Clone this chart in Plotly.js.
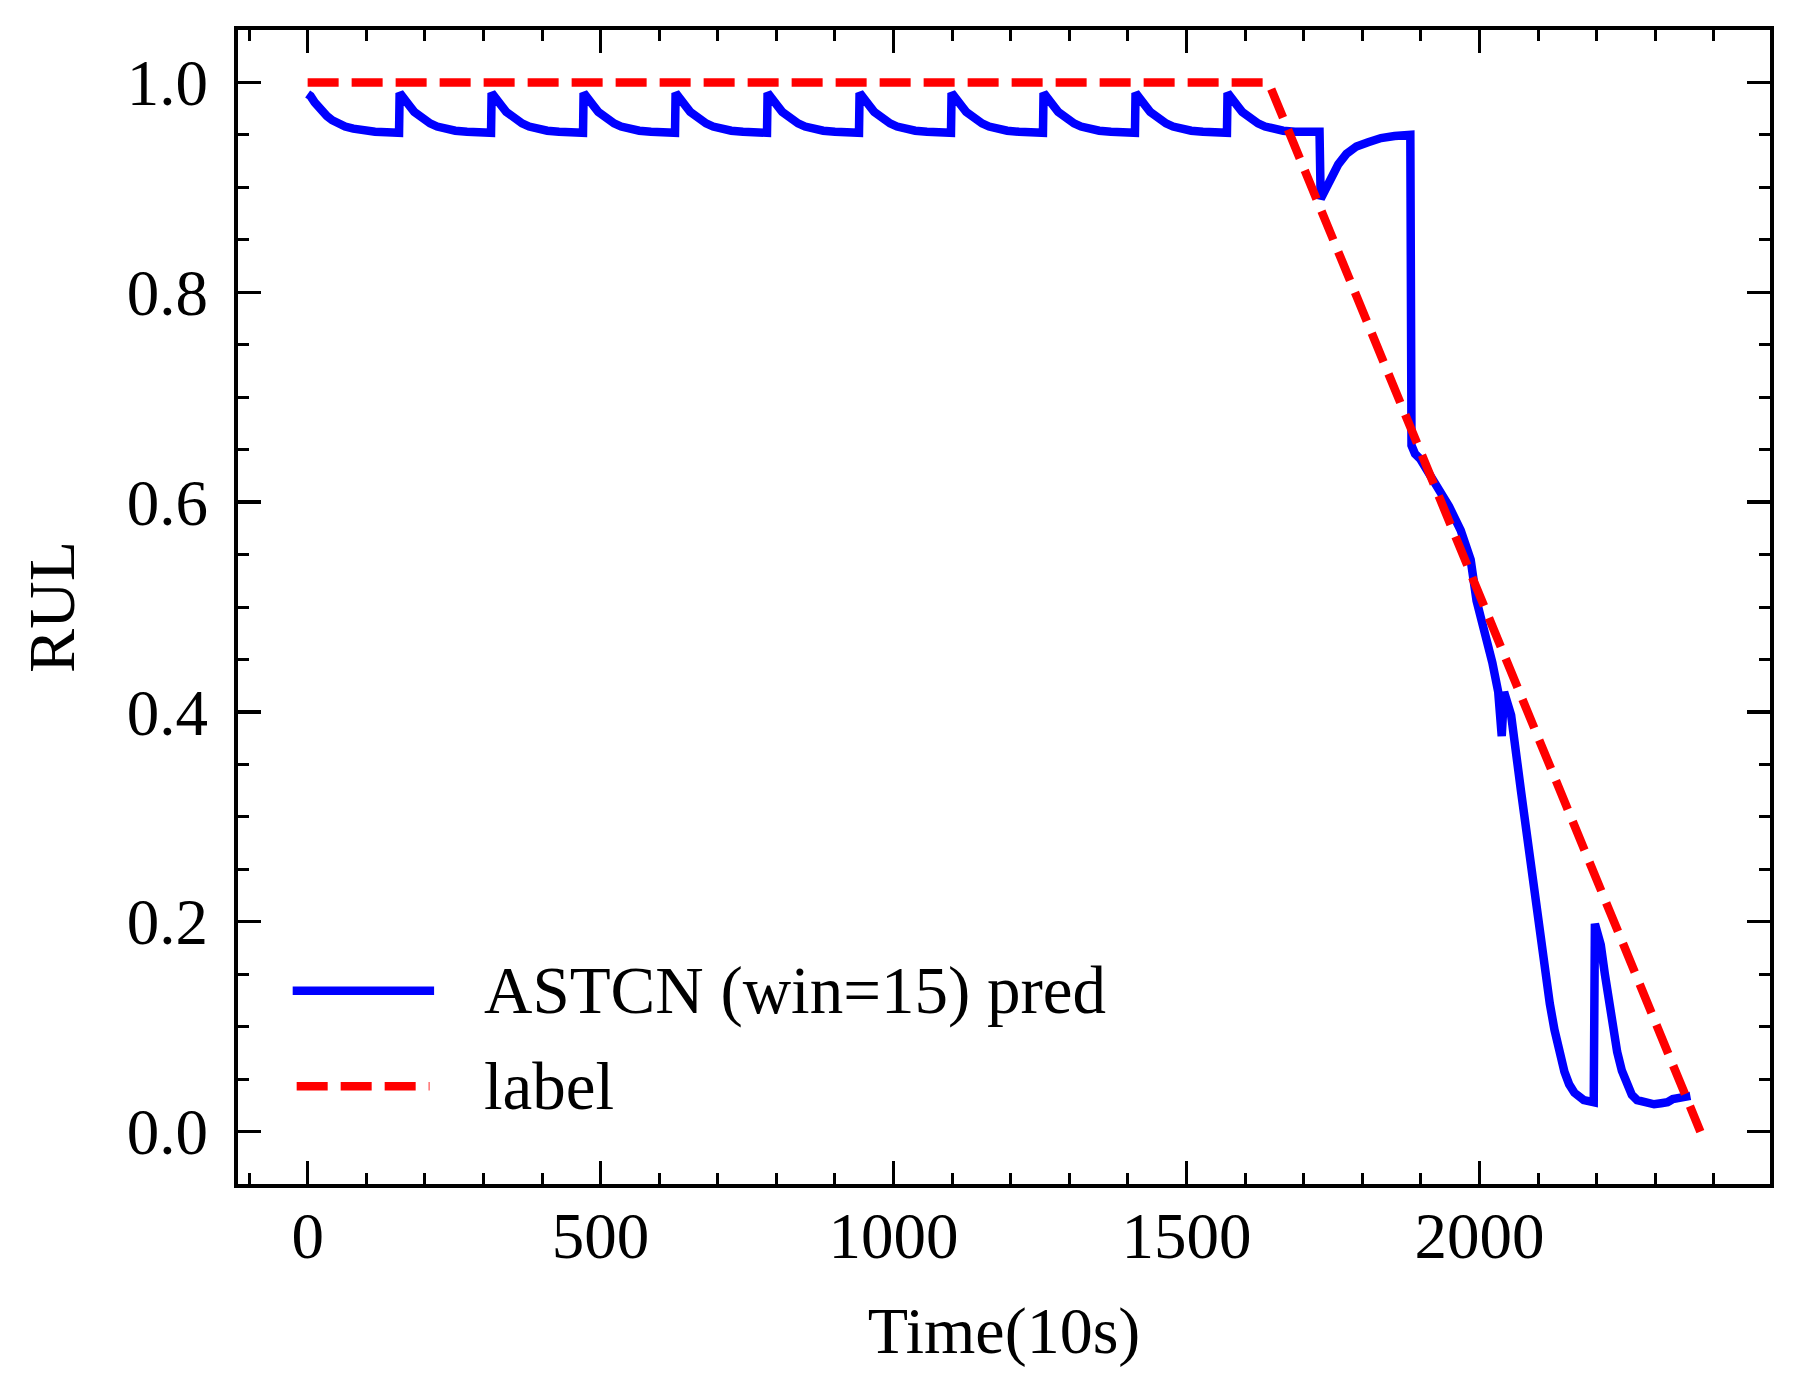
<!DOCTYPE html>
<html>
<head>
<meta charset="utf-8">
<script src="https://cdn.plot.ly/plotly-3.0.1.min.js"></script>
<style>
    html, body {
        margin: 0;
        padding: 0;
        background: #ffffff;
    }

    #chart {
        width: 1801px;
        height: 1399px;
    }
</style>
</head>
<body>
<div id="chart"></div>
<script>
/******************************************************************************
 * RUL prediction vs label.
 ******************************************************************************/

// label: flat at 1.0, then a straight ramp down to 0
const labelX = [0, 1640, 2377];
const labelY = [1.0, 1.0, 0.0];

// prediction of ASTCN (win=15), one row per saw-tooth period
const predX = [
    0, 5, 12, 18, 25, 33, 42, 52, 64, 78, 95, 115, 135, 156,
    157, 162, 169, 175, 182, 190, 199, 209, 221, 235, 252, 272, 292, 313,
    314, 319, 326, 332, 339, 347, 356, 366, 378, 392, 409, 429, 449, 470,
    471, 476, 483, 489, 496, 504, 513, 523, 535, 549, 566, 586, 606, 627,
    628, 633, 640, 646, 653, 661, 670, 680, 692, 706, 723, 743, 763, 784,
    785, 790, 797, 803, 810, 818, 827, 837, 849, 863, 880, 900, 920, 941,
    942, 947, 954, 960, 967, 975, 984, 994, 1006, 1020, 1037, 1057, 1077, 1098,
    1099, 1104, 1111, 1117, 1124, 1132, 1141, 1151, 1163, 1177, 1194, 1214, 1234, 1255,
    1256, 1261, 1268, 1274, 1281, 1289, 1298, 1308, 1320, 1334, 1351, 1371, 1391, 1412,
    1413, 1418, 1425, 1431, 1438, 1446, 1455, 1465, 1477, 1491, 1508, 1528, 1548, 1569,
    1570, 1575, 1582, 1588, 1595, 1603, 1612, 1622, 1634, 1648, 1665, 1685, 1705, 1727,
    1729, 1739, 1747, 1759, 1773, 1790, 1810, 1832, 1855, 1882,
    1884, 1890, 1899, 1912, 1925, 1948, 1968, 1985, 1995, 2012, 2022, 2032, 2038,
    2042, 2047, 2054, 2071, 2088, 2110, 2120, 2128, 2136, 2145, 2153, 2162, 2178, 2190, 2195,
    2197, 2202, 2207, 2214, 2221, 2228, 2235, 2243, 2252, 2260, 2269, 2285, 2298, 2310, 2321, 2330, 2338, 2348, 2360
];

const predY = [
    0.989, 0.987, 0.981, 0.977, 0.972, 0.968, 0.964, 0.961, 0.958, 0.956, 0.954, 0.953, 0.9525, 0.952,
    0.990, 0.987, 0.981, 0.977, 0.972, 0.968, 0.964, 0.961, 0.958, 0.956, 0.954, 0.953, 0.9525, 0.952,
    0.990, 0.987, 0.981, 0.977, 0.972, 0.968, 0.964, 0.961, 0.958, 0.956, 0.954, 0.953, 0.9525, 0.952,
    0.990, 0.987, 0.981, 0.977, 0.972, 0.968, 0.964, 0.961, 0.958, 0.956, 0.954, 0.953, 0.9525, 0.952,
    0.990, 0.987, 0.981, 0.977, 0.972, 0.968, 0.964, 0.961, 0.958, 0.956, 0.954, 0.953, 0.9525, 0.952,
    0.990, 0.987, 0.981, 0.977, 0.972, 0.968, 0.964, 0.961, 0.958, 0.956, 0.954, 0.953, 0.9525, 0.952,
    0.990, 0.987, 0.981, 0.977, 0.972, 0.968, 0.964, 0.961, 0.958, 0.956, 0.954, 0.953, 0.9525, 0.952,
    0.990, 0.987, 0.981, 0.977, 0.972, 0.968, 0.964, 0.961, 0.958, 0.956, 0.954, 0.953, 0.9525, 0.952,
    0.990, 0.987, 0.981, 0.977, 0.972, 0.968, 0.964, 0.961, 0.958, 0.956, 0.954, 0.953, 0.9525, 0.952,
    0.990, 0.987, 0.981, 0.977, 0.972, 0.968, 0.964, 0.961, 0.958, 0.956, 0.954, 0.953, 0.9525, 0.952,
    0.990, 0.987, 0.981, 0.977, 0.972, 0.968, 0.964, 0.961, 0.958, 0.956, 0.954, 0.953, 0.953, 0.953,
    0.889, 0.900, 0.912, 0.922, 0.932, 0.939, 0.943, 0.947, 0.949, 0.950,
    0.654, 0.646, 0.641, 0.630, 0.618, 0.596, 0.573, 0.545, 0.506, 0.470, 0.447, 0.419, 0.377,
    0.419, 0.412, 0.397, 0.324, 0.251, 0.160, 0.122, 0.097, 0.075, 0.057, 0.045, 0.037, 0.030, 0.029, 0.028,
    0.198, 0.190, 0.178, 0.150, 0.123, 0.098, 0.076, 0.058, 0.043, 0.035, 0.030, 0.027, 0.026, 0.027, 0.028, 0.031, 0.032, 0.033, 0.034
];

const seriesNames = ["ASTCN (win=15) pred", "label"];

const xTickVals = [0, 500, 1000, 1500, 2000];
const xTickText = ["0", "500", "1000", "1500", "2000"];
const yTickVals = [0.0, 0.2, 0.4, 0.6, 0.8, 1.0];
const yTickText = ["0.0", "0.2", "0.4", "0.6", "0.8", "1.0"];

const FONT_FAMILY = "Liberation Serif, 'Times New Roman', serif";
const PRED_COLOR = "#0000ff";
const LABEL_COLOR = "#ff0000";
const LABEL_DASH = "31px,13px";
const LINE_WIDTH = 8.5;

function axisStyle() {
    return {
        showgrid: false,
        zeroline: false,
        showline: true,
        linecolor: "#000000",
        linewidth: 4,
        mirror: "allticks",
        ticks: "inside",
        ticklen: 23,
        tickwidth: 3.5,
        tickcolor: "#000000",
        tickfont: {
            family: FONT_FAMILY,
            size: 65,
            color: "#000000"
        }
    };
}

function minorTicks(step) {
    return {
        ticks: "inside",
        ticklen: 11,
        tickwidth: 3,
        tickcolor: "#000000",
        tick0: 0,
        dtick: step,
        showgrid: false
    };
}

const traces = [
    {
        x: predX,
        y: predY,
        type: "scatter",
        mode: "lines",
        name: seriesNames[0],
        line: {
            color: PRED_COLOR,
            width: LINE_WIDTH
        }
    },
    {
        x: labelX,
        y: labelY,
        type: "scatter",
        mode: "lines",
        name: seriesNames[1],
        line: {
            color: LABEL_COLOR,
            width: LINE_WIDTH,
            dash: LABEL_DASH
        }
    }
];

// legend drawn by hand so the line samples keep matplotlib's long handles
const legendRows = [
    { y: 0.1675, x0: 0.0357, x1: 0.1280, color: PRED_COLOR, dash: "solid", text: seriesNames[0] },
    { y: 0.0846, x0: 0.0383, x1: 0.1250, color: LABEL_COLOR, dash: LABEL_DASH, text: seriesNames[1] }
];

const layout = {
    width: 1801,
    height: 1399,
    paper_bgcolor: "#ffffff",
    plot_bgcolor: "#ffffff",

    margin: {
        l: 238,
        r: 31,
        t: 30,
        b: 215
    },

    font: {
        family: FONT_FAMILY,
        size: 65,
        color: "#000000"
    },

    showlegend: false,

    xaxis: Object.assign(axisStyle(), {
        range: [-118.85, 2495.85],
        tickmode: "array",
        tickvals: xTickVals,
        ticktext: xTickText,
        ticklabelstandoff: -8,
        minor: minorTicks(100),
        title: {
            text: "Time(10s)",
            standoff: 37,
            font: {
                family: FONT_FAMILY,
                size: 66
            }
        }
    }),

    yaxis: Object.assign(axisStyle(), {
        range: [-0.05, 1.05],
        tickmode: "array",
        tickvals: yTickVals,
        ticktext: yTickText,
        ticklabelstandoff: 13,
        minor: minorTicks(0.05),
        title: {
            text: "RUL",
            standoff: 32,
            font: {
                family: FONT_FAMILY,
                size: 66
            }
        }
    }),

    shapes: legendRows.map(row => ({
        type: "line",
        xref: "paper",
        yref: "paper",
        x0: row.x0,
        x1: row.x1,
        y0: row.y,
        y1: row.y,
        line: {
            color: row.color,
            width: LINE_WIDTH,
            dash: row.dash
        }
    })),

    annotations: legendRows.map(row => ({
        xref: "paper",
        yref: "paper",
        x: 0.1595,
        y: row.y,
        xanchor: "left",
        yanchor: "middle",
        showarrow: false,
        text: row.text,
        font: {
            family: FONT_FAMILY,
            size: 67,
            color: "#000000"
        }
    }))
};

const config = {
    displayModeBar: false,
    staticPlot: true
};

Plotly.newPlot("chart", traces, layout, config);
</script>
</body>
</html>
